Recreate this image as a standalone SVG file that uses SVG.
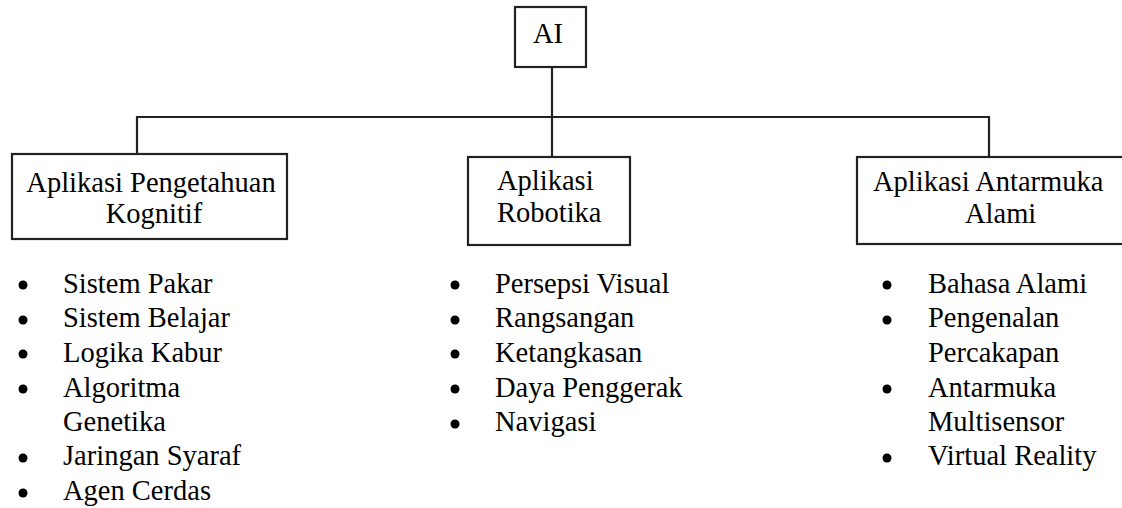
<svg xmlns="http://www.w3.org/2000/svg" width="1122" height="508" viewBox="0 0 1122 508">
<style>
.box{fill:#fff;stroke:#222;stroke-width:2.2}
.ln{fill:none;stroke:#222;stroke-width:2.2}
text{font-family:"Liberation Serif","Times New Roman",serif;font-size:28.5px;fill:#000}
.b{fill:#000}
</style>
<rect width="1122" height="508" fill="#fff"/>
<g id="connectors">
<line class="ln" x1="552" y1="67" x2="552" y2="157"/>
<polyline class="ln" points="137,154 137,117 989,117 989,157"/>
</g>
<g id="ai">
<rect class="box" x="515" y="7" width="71" height="60"/>
<text x="548" y="43" text-anchor="middle">AI</text>
</g>
<g id="kognitif">
<rect class="box" x="12" y="154" width="275" height="85"/>
<text x="151" y="192" text-anchor="middle">Aplikasi Pengetahuan</text>
<text x="154" y="223" text-anchor="middle">Kognitif</text>
</g>
<g id="robotika">
<rect class="box" x="468" y="157" width="162" height="88"/>
<text x="497" y="190">Aplikasi</text>
<text x="497" y="222">Robotika</text>
</g>
<g id="antarmuka">
<rect class="box" x="857" y="157" width="270" height="87"/>
<text x="873" y="191">Aplikasi Antarmuka</text>
<text x="965" y="223">Alami</text>
</g>
<g id="list-kognitif">
<circle class="b" cx="23" cy="285" r="4.5"/><text x="63" y="293">Sistem Pakar</text>
<circle class="b" cx="23" cy="320" r="4.5"/><text x="63" y="327">Sistem Belajar</text>
<circle class="b" cx="23" cy="354" r="4.5"/><text x="63" y="362">Logika Kabur</text>
<circle class="b" cx="23" cy="389" r="4.5"/><text x="63" y="397">Algoritma</text>
<text x="63" y="431">Genetika</text>
<circle class="b" cx="23" cy="458" r="4.5"/><text x="63" y="465">Jaringan Syaraf</text>
<circle class="b" cx="23" cy="493" r="4.5"/><text x="63" y="500">Agen Cerdas</text>
</g>
<g id="list-robotika">
<circle class="b" cx="455" cy="285" r="4.5"/><text x="495" y="293">Persepsi Visual</text>
<circle class="b" cx="455" cy="320" r="4.5"/><text x="495" y="327">Rangsangan</text>
<circle class="b" cx="455" cy="354" r="4.5"/><text x="495" y="362">Ketangkasan</text>
<circle class="b" cx="455" cy="389" r="4.5"/><text x="495" y="397">Daya Penggerak</text>
<circle class="b" cx="455" cy="424" r="4.5"/><text x="495" y="431">Navigasi</text>
</g>
<g id="list-antarmuka">
<circle class="b" cx="887" cy="285" r="4.5"/><text x="928" y="293">Bahasa Alami</text>
<circle class="b" cx="887" cy="320" r="4.5"/><text x="928" y="327">Pengenalan</text>
<text x="928" y="362">Percakapan</text>
<circle class="b" cx="887" cy="389" r="4.5"/><text x="928" y="397">Antarmuka</text>
<text x="928" y="431">Multisensor</text>
<circle class="b" cx="887" cy="458" r="4.5"/><text x="928" y="465">Virtual Reality</text>
</g>
</svg>
